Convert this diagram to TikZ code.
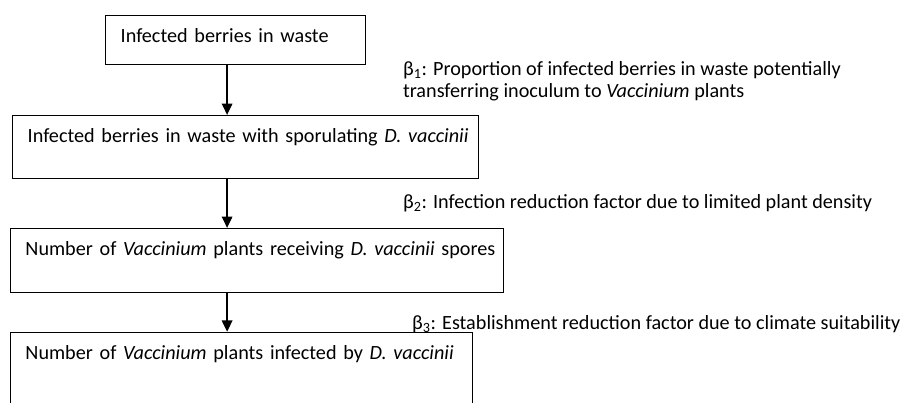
\documentclass[tikz,border=0pt]{standalone}
\usepackage{fontspec}
\setmainfont{Carlito}
\usetikzlibrary{arrows.meta,positioning}

\begin{document}
\begin{tikzpicture}[
    stage/.style={rectangle, draw, line width=0.8pt, anchor=north west,
                  inner xsep=0.40cm, inner ysep=0pt, text height=0.71cm,
                  align=left, font=\fontsize{15.2}{16.5}\selectfont},
    factor/.style={anchor=base west, inner sep=0pt, align=left,
                   font=\fontsize{15.2}{16.5}\selectfont},
    flow/.style={line width=1.1pt, -{Triangle[width=0.28cm, length=0.30cm]}}
  ]
    \clip (0,0) rectangle (24.32,-10.66);

    % Stages
    \node[stage, text width=6.08cm, text depth=0.58cm]  (waste)  at (2.78,-0.40)
      {\mbox{Infected berries in waste}};
    \node[stage, text width=11.53cm, text depth=0.96cm] (sporul) at (0.32,-3.04)
      {\mbox{Infected berries in waste with sporulating \emph{D. vaccinii}}};
    \node[stage, text width=12.25cm, text depth=0.99cm] (recv)   at (0.26,-6.03)
      {\mbox{Number of \emph{Vaccinium} plants receiving \emph{D. vaccinii} spores}};
    \node[stage, text width=11.42cm, text depth=2.00cm] (infect) at (0.26,-8.78)
      {\mbox{Number of \emph{Vaccinium} plants infected by \emph{D. vaccinii}}};

    % Arrows
    \coordinate (ax) at (6.01,0);
    \draw[flow] (ax |- waste.south)  -- (ax |- sporul.north);
    \draw[flow] (ax |- sporul.south) -- (ax |- recv.north);
    \draw[flow] (ax |- recv.south)   -- (ax |- infect.north);

    % Factors
    \node[factor] (beta1) at (10.66,-2.59)
      {β\textsubscript{1}: Proportion of infected berries in waste potentially\\
       transferring inoculum to \emph{Vaccinium} plants};
    \node[factor] (beta2) at (10.66,-5.53)
      {β\textsubscript{2}: Infection reduction factor due to limited plant density};
    \node[factor] (beta3) at (10.90,-8.73)
      {β\textsubscript{3}: Establishment reduction factor due to climate suitability};
  \end{tikzpicture}
\end{document}
